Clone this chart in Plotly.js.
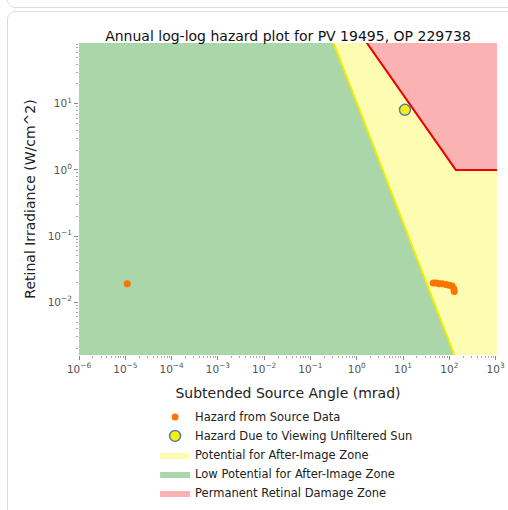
<!DOCTYPE html>
<html>
<head>
<meta charset="utf-8">
<script src="https://cdn.plot.ly/plotly-3.0.1.min.js"></script>
<style>
  html, body { margin: 0; padding: 0; background: #fff; width: 508px; height: 510px; overflow: hidden; }
  #prevcard { position: absolute; left: 7px; top: -20px; width: 520px; height: 26px; border: 1px solid #dcdcdc; border-radius: 8px; }
  #card { position: absolute; left: 7px; top: 11px; width: 520px; height: 520px; border: 1px solid #dcdcdc; border-radius: 8px; }
  #chart { position: absolute; left: 0; top: 0; width: 508px; height: 510px; }
</style>
</head>
<body>
<div id="prevcard"></div>
<div id="card"></div>
<div id="chart"></div>
<script>
// ---- data ----
const titleText = 'Annual log-log hazard plot for PV 19495, OP 229738';

// Hazard from source data (subtended angle mrad, retinal irradiance W/cm^2)
const sourceAngle = [1.1e-5, 45, 52, 60, 70, 85, 100, 115, 125, 128];
const sourceIrr   = [0.019, 0.0195, 0.0195, 0.019, 0.019, 0.0185, 0.018, 0.0175, 0.016, 0.0145];

// Unfiltered sun
const sunAngle = [11];
const sunIrr   = [8.1];

// After-image threshold boundary (yellow line)
const afterX = [0.1, 316];
const afterY = [668, 0.00031];

// Permanent retinal damage boundary (red line)
const burnX = [0.1, 138, 2000];
const burnY = [1380, 1, 1];

// Zone polygons
const greenX  = [1e-7, 0.1, 316, 1e-7, 1e-7];
const greenY  = [668, 668, 0.00031, 0.00031, 668];
const yellowX = [0.1, 316, 2000, 2000, 0.1];
const yellowY = [668, 0.00031, 0.00031, 668, 668];
const redX    = [0.1, 138, 2000, 2000, 0.1];
const redY    = [1380, 1, 1, 1380, 1380];

// Tick labels
const xTickVals = [1e-6, 1e-5, 1e-4, 1e-3, 1e-2, 1e-1, 1, 10, 100, 1000];
const xTickText = ['10<sup>−6</sup>','10<sup>−5</sup>','10<sup>−4</sup>','10<sup>−3</sup>','10<sup>−2</sup>','10<sup>−1</sup>','10<sup>0</sup>','10<sup>1</sup>','10<sup>2</sup>','10<sup>3</sup>'];
const yTickVals = [1e-2, 1e-1, 1, 10];
const yTickText = ['10<sup>−2</sup>','10<sup>−1</sup>','10<sup>0</sup>','10<sup>1</sup>'];

const legendNames = ['Hazard from Source Data', 'Hazard Due to Viewing Unfiltered Sun',
  'Potential for After-Image Zone', 'Low Potential for After-Image Zone', 'Permanent Retinal Damage Zone'];

// ---- traces ----
const traces = [
  { x: greenX, y: greenY, mode: 'lines', fill: 'toself', fillcolor: '#aad6aa',
    line: { width: 0, color: '#aad6aa' }, name: legendNames[3], legendrank: 4, hoverinfo: 'skip' },
  { x: yellowX, y: yellowY, mode: 'lines', fill: 'toself', fillcolor: '#fdfdb2',
    line: { width: 0, color: '#fdfdb2' }, name: legendNames[2], legendrank: 3, hoverinfo: 'skip' },
  { x: redX, y: redY, mode: 'lines', fill: 'toself', fillcolor: '#fab2b2',
    line: { width: 0, color: '#fab2b2' }, name: legendNames[4], legendrank: 5, hoverinfo: 'skip' },
  { x: afterX, y: afterY, mode: 'lines', line: { color: '#eeee00', width: 2 }, showlegend: false, hoverinfo: 'skip' },
  { x: burnX, y: burnY, mode: 'lines', line: { color: '#ee0000', width: 2 }, showlegend: false, hoverinfo: 'skip' },
  { x: sourceAngle, y: sourceIrr, mode: 'markers', name: legendNames[0], legendrank: 1,
    marker: { color: '#ff7400', size: 7, line: { width: 0 } } },
  { x: sunAngle, y: sunIrr, mode: 'markers', name: legendNames[1], legendrank: 2,
    marker: { color: '#f2f20a', size: 11, line: { color: '#5a78b4', width: 1.5 } } }
];

const axisFont = { family: 'DejaVu Sans', size: 10.5, color: '#555' };

const layout = {
  width: 508, height: 510,
  paper_bgcolor: 'rgba(0,0,0,0)', plot_bgcolor: '#fff',
  margin: { l: 79, r: 11, t: 43, b: 155, autoexpand: false },
  font: { family: 'DejaVu Sans', color: '#222' },
  title: { text: titleText, font: { family: 'DejaVu Sans', size: 14, color: '#111' },
    x: 0.567, xanchor: 'center', yref: 'container', y: 1 - 36/510, yanchor: 'middle' },
  xaxis: {
    type: 'log', range: [-6, 3.03], showgrid: false, zeroline: false, showline: false,
    tickvals: xTickVals, ticktext: xTickText, ticks: 'outside', ticklen: 4, tickcolor: '#888',
    tickfont: axisFont,
    minor: { ticks: 'outside', ticklen: 2, tickcolor: '#aaa', dtick: 'D1', showgrid: false },
    title: { text: 'Subtended Source Angle (mrad)', font: { family: 'DejaVu Sans', size: 14, color: '#222' }, standoff: 14 }
  },
  yaxis: {
    type: 'log', range: [-2.8, 1.92], showgrid: false, zeroline: false, showline: false,
    tickvals: yTickVals, ticktext: yTickText, ticks: 'outside', ticklen: 4, tickcolor: '#888',
    tickfont: axisFont,
    minor: { ticks: 'outside', ticklen: 2, tickcolor: '#aaa', dtick: 'D1', showgrid: false },
    title: { text: 'Retinal Irradiance (W/cm^2)', font: { family: 'DejaVu Sans', size: 14, color: '#222' }, standoff: 8 }
  },
  showlegend: true,
  legend: {
    orientation: 'v', xref: 'paper', x: 0.182, xanchor: 'left', yref: 'paper', y: -0.152, yanchor: 'top',
    font: { family: 'DejaVu Sans', size: 11.5, color: '#222' }, bgcolor: 'rgba(0,0,0,0)', itemwidth: 30,
    tracegroupgap: 0
  }
};

Plotly.newPlot('chart', traces, layout, { displayModeBar: false, staticPlot: true });
</script>
</body>
</html>
